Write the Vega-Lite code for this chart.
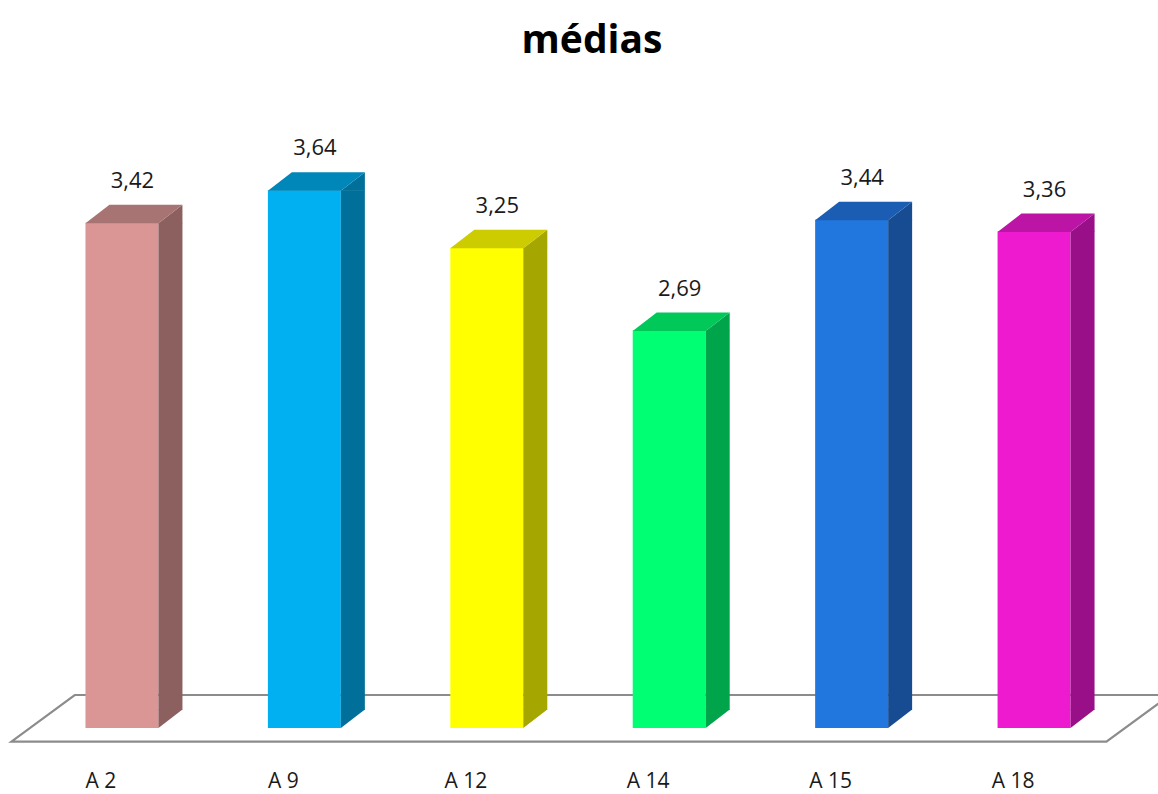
{
  "$schema": "https://vega.github.io/schema/vega-lite/v6.json",
  "autosize": {"type": "none"},
  "width": 1131,
  "height": 648,
  "padding": {"left": 12.5, "top": 80, "right": 14.5, "bottom": 66},
  "background": "white",
  "config": {
    "view": {"stroke": null},
    "font": "Open Sans",
    "locale": {"number": {"decimal": ",", "thousands": ".", "grouping": [3], "currency": ["", " €"]}}
  },
  "title": {
    "text": "médias",
    "font": "Open Sans",
    "fontSize": 39,
    "fontWeight": "bold",
    "color": "#000000",
    "anchor": "middle",
    "frame": "group",
    "baseline": "alphabetic",
    "offset": 28,
    "dx": 14,
    "dy": 40
  },
  "data": {
    "values": [
      {"cat": "A 2", "value": 3.42},
      {"cat": "A 9", "value": 3.64},
      {"cat": "A 12", "value": 3.25},
      {"cat": "A 14", "value": 2.69},
      {"cat": "A 15", "value": 3.44},
      {"cat": "A 18", "value": 3.36}
    ]
  },
  "encoding": {
    "x": {
      "field": "cat",
      "type": "nominal",
      "scale": {"domain": ["A 2", "A 9", "A 12", "A 14", "A 15", "A 18"], "paddingInner": 0.6, "paddingOuter": 0.4},
      "axis": {
        "title": null,
        "domain": false,
        "ticks": false,
        "tickSize": 0,
        "labelAngle": 0,
        "labelFont": "Open Sans",
        "labelFontSize": 21,
        "labelColor": "#1a1a1a",
        "labelBaseline": "alphabetic",
        "labelPadding": 59,
        "labelOffset": -21
      }
    },
    "y": {
      "field": "value",
      "type": "quantitative",
      "scale": {"domain": [0, 4.386], "nice": false, "zero": true},
      "axis": null
    }
  },
  "layer": [
    {
      "transform": [{"filter": "datum.cat == 'A 2'"}],
      "mark": {
        "type": "point",
        "filled": false,
        "opacity": 1,
        "stroke": "#8c8c8c",
        "strokeWidth": 2.2,
        "size": 1440000,
        "shape": "M-0.1842,0.0228 L1.6408,0.0228 L1.7467,-0.055 L-0.0787,-0.055 Z"
      },
      "encoding": {"y": {"datum": 0}}
    },
    {
      "mark": {"type": "bar"},
      "encoding": {
        "color": {
          "field": "cat",
          "type": "nominal",
          "scale": {"domain": ["A 2", "A 9", "A 12", "A 14", "A 15", "A 18"], "range": ["#D99694", "#00B0F0", "#FFFF00", "#00FF72", "#2277DE", "#EE1ACF"]},
          "legend": null
        }
      }
    },
    {
      "mark": {"type": "bar", "width": 24, "xOffset": 48.5, "y2Offset": -18},
      "encoding": {
        "y2": {"datum": 0},
        "color": {
          "field": "cat",
          "type": "nominal",
          "scale": {"domain": ["A 2", "A 9", "A 12", "A 14", "A 15", "A 18"], "range": ["#8C605F", "#00709A", "#A6A600", "#00A44A", "#174C92", "#990F87"]},
          "legend": null
        }
      }
    },
    {
      "mark": {
        "type": "point",
        "filled": true,
        "opacity": 1,
        "strokeWidth": 0,
        "size": 14400,
        "shape": "M0.6083,0.0083 L1.0083,-0.3 L1.0083,0.0083 Z"
      },
      "encoding": {
        "color": {
          "field": "cat",
          "type": "nominal",
          "scale": {"domain": ["A 2", "A 9", "A 12", "A 14", "A 15", "A 18"], "range": ["#8C605F", "#00709A", "#A6A600", "#00A44A", "#174C92", "#990F87"]},
          "legend": null
        }
      }
    },
    {
      "mark": {
        "type": "point",
        "filled": true,
        "opacity": 1,
        "strokeWidth": 0,
        "size": 14400,
        "shape": "M0.6083,-0.3083 L1.0083,-0.3083 L0.6083,0 Z"
      },
      "encoding": {
        "y": {"datum": 0},
        "color": {
          "field": "cat",
          "type": "nominal",
          "scale": {"domain": ["A 2", "A 9", "A 12", "A 14", "A 15", "A 18"], "range": ["#8C605F", "#00709A", "#A6A600", "#00A44A", "#174C92", "#990F87"]},
          "legend": null
        }
      }
    },
    {
      "mark": {
        "type": "point",
        "filled": true,
        "opacity": 1,
        "strokeWidth": 0,
        "size": 14400,
        "shape": "M-0.6083,0.008 L0.6083,0.008 L1.0083,-0.3 L-0.2083,-0.3 Z"
      },
      "encoding": {
        "color": {
          "field": "cat",
          "type": "nominal",
          "scale": {"domain": ["A 2", "A 9", "A 12", "A 14", "A 15", "A 18"], "range": ["#A87473", "#0087B9", "#CCCC00", "#00C859", "#1A5DB3", "#BC14A5"]},
          "legend": null
        }
      }
    },
    {
      "mark": {
        "type": "text",
        "font": "Open Sans",
        "fontSize": 22,
        "color": "#1a1a1a",
        "baseline": "alphabetic",
        "align": "center",
        "dx": 10.5,
        "dy": -35
      },
      "encoding": {
        "text": {"field": "value", "type": "quantitative", "format": ".2f"}
      }
    }
  ],
  "resolve": {"scale": {"color": "independent"}}
}
